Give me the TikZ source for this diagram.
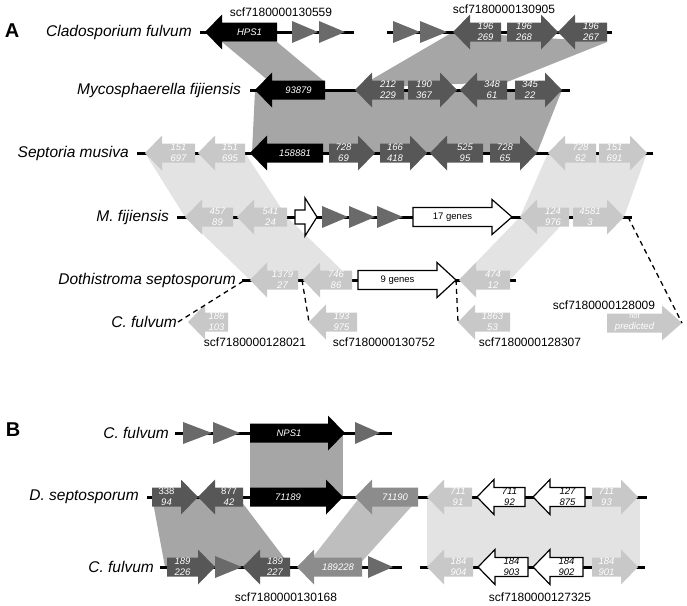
\documentclass[tikz,border=0pt]{standalone}
\usepackage{fontspec}
\setmainfont{Liberation Sans}

\definecolor{dkgray}{HTML}{575757}
\definecolor{trigray}{HTML}{6A6A6A}
\definecolor{midgray}{HTML}{8C8C8C}
\definecolor{ltgray}{HTML}{C8C8C8}
\definecolor{dkshade}{HTML}{A6A6A6}
\definecolor{midshade}{HTML}{BEBEBE}
\definecolor{ltshade}{HTML}{E3E3E3}

\tikzset{
  backbone/.style={line width=3pt},
  link/.style={line width=1.3pt, dash pattern=on 5pt off 4pt},
  species/.style={font=\fontsize{15.5}{18}\selectfont\itshape, anchor=east, inner sep=1pt},
  scaffold/.style={font=\fontsize{12}{14}\selectfont, inner sep=0pt},
  panel/.style={font=\fontsize{20}{22}\selectfont\bfseries, inner sep=0pt},
  genetext/.style={font=\fontsize{9.5}{11}\selectfont\itshape, align=center, inner sep=0pt, text=white},
  blkgene/.style={fill=black},
  dkgene/.style={fill=dkgray},
  midgene/.style={fill=midgray},
  ltgene/.style={fill=ltgray},
  wgene/.style={fill=white, draw=black, line width=1.2pt},
  blkgene label/.style={},
  dkgene label/.style={},
  midgene label/.style={},
  ltgene label/.style={},
  wgene label/.style={text=black},
  orf/.style={fill=trigray},
}

% gene verso destra: [testa]{stile}{nome}{inizio}{punta}{y}{testo}
\newcommand{\geneR}[7][17]{%
  \pgfmathsetmacro{\gHead}{#5-#1}%
  \path[#2] (#4,#6-9.5) -- (\gHead,#6-9.5) -- (\gHead,#6-17.5) -- (#5,#6)
    -- (\gHead,#6+17.5) -- (\gHead,#6+9.5) -- (#4,#6+9.5) -- cycle;
  \node[genetext, #2 label] (#3) at ({(#4+\gHead)/2},#6) {#7};
  \coordinate (#3-tip) at (#5,#6);
}
% gene verso sinistra: [testa]{stile}{nome}{fine}{punta}{y}{testo}
\newcommand{\geneL}[7][17]{%
  \pgfmathsetmacro{\gHead}{#5+#1}%
  \path[#2] (#4,#6-9.5) -- (\gHead,#6-9.5) -- (\gHead,#6-17.5) -- (#5,#6)
    -- (\gHead,#6+17.5) -- (\gHead,#6+9.5) -- (#4,#6+9.5) -- cycle;
  \node[genetext, #2 label] (#3) at ({(#4+\gHead)/2},#6) {#7};
  \coordinate (#3-tip) at (#5,#6);
}
% piccolo gene triangolare
\newcommand{\orfR}[3]{\path[orf] (#1,#3-11) -- (#2,#3) -- (#1,#3+11) -- cycle;}

\begin{document}
\begin{tikzpicture}[x=1pt, y=-1pt]
  \useasboundingbox (0,0) rectangle (687,605);

  % Regioni omologhe (A)
  \fill[dkshade] (222,42) -- (277,42) -- (325,82) -- (270,82) -- cycle;
  \fill[dkshade] (453,32) -- (607,42) -- (507,82) -- (357,88) -- cycle;
  \fill[dkshade] (255,90) -- (562,90) -- (537,153) -- (252,153) -- cycle;
  \fill[ltshade] (145,153) -- (245,153) -- (287,217) -- (185,217) -- cycle;
  \fill[ltshade] (185,217) -- (287,217) -- (352,280) -- (250,280) -- cycle;
  \fill[ltshade] (548,153) -- (647,153) -- (624,217) -- (520,217) -- cycle;
  \fill[ltshade] (520,217) -- (569,217) -- (510,280) -- (459,280) -- cycle;

  % Regioni omologhe (B)
  \fill[dkshade] (250,433) rectangle (343,497);
  \fill[dkshade] (152,497) -- (238,497) -- (291,567) -- (165,567) -- cycle;
  \fill[midshade] (360,497) -- (420,497) -- (357,567) -- (305,567) -- cycle;
  \fill[ltshade] (427,497) rectangle (640,567);

  % Scaffold
  \draw[backbone] (200,32) -- (354,32);
  \draw[backbone] (387,32) -- (612,32);
  \draw[backbone] (250,90) -- (570,90);
  \draw[backbone] (137,153) -- (653,153);
  \draw[backbone] (177,217) -- (632,217);
  \draw[backbone] (242,280) -- (516,280);
  \draw[backbone] (175,433) -- (392,433);
  \draw[backbone] (147,497) -- (647,497);
  \draw[backbone] (160,567) -- (402,567);
  \draw[backbone] (420,567) -- (645,567);
  \coordinate (ds-left) at (245,280);
  \coordinate (ds-gap) at (302,280);
  \coordinate (mf-end) at (628,217);

  % Cladosporium fulvum
  \geneL{blkgene}{hps1}{277}{205}{32}{HPS1}
  \orfR{292}{318}{32} \orfR{319}{345}{32}
  \orfR{393}{420}{32} \orfR{420}{447}{32}
  \geneL{dkgene}{cf269}{501}{453}{32}{196\\269}
  \geneR{dkgene}{cf268}{507}{558}{32}{196\\268}
  \geneL{dkgene}{cf267}{607}{558}{32}{196\\267}

  % Mycosphaerella fijiensis
  \geneL{blkgene}{mf93879}{325}{255}{90}{93879}
  \geneL{dkgene}{mf212}{404}{355}{90}{212\\229}
  \geneR{dkgene}{mf190}{408}{457}{90}{190\\367}
  \geneL{dkgene}{mf348}{507}{460}{90}{348\\61}
  \geneR{dkgene}{mf345}{515}{562}{90}{345\\22}

  % Septoria musiva
  \geneL{ltgene}{sm697}{195}{145}{153}{151\\697}
  \geneL{ltgene}{sm695}{245}{198}{153}{151\\695}
  \geneL{blkgene}{sm158881}{323}{250}{153}{158881}
  \geneR{dkgene}{sm69}{329}{375}{153}{728\\69}
  \geneR{dkgene}{sm418}{380}{427}{153}{166\\418}
  \geneL{dkgene}{sm95}{483}{430}{153}{525\\95}
  \geneR{dkgene}{sm65}{490}{537}{153}{728\\65}
  \geneL{ltgene}{sm62}{596}{548}{153}{728\\62}
  \geneR{ltgene}{sm691}{599}{647}{153}{151\\691}

  % M. fijiensis
  \geneL{ltgene}{mf89}{233}{185}{217}{457\\89}
  \geneL{ltgene}{mf24}{287}{237}{217}{541\\24}
  \path[wgene] (295,210) -- (305,210) -- (305,198) -- (317,217)
    -- (305,236) -- (305,224) -- (295,224) -- cycle;
  \orfR{322}{348}{217} \orfR{349}{375}{217} \orfR{377}{403}{217}
  \geneR[20]{wgene}{mf17}{413}{512}{217}{\upshape 17 genes}
  \geneL{ltgene}{mf976}{569}{520}{217}{124\\976}
  \geneR{ltgene}{mf3}{573}{624}{217}{4581\\3}

  % Dothistroma septosporum
  \geneL{ltgene}{ds27}{298}{250}{280}{1379\\27}
  \geneL{ltgene}{ds86}{352}{303}{280}{746\\86}
  \geneR[19]{wgene}{ds9}{358}{456}{280}{\upshape 9 genes}
  \geneL{ltgene}{ds12}{510}{459}{280}{474\\12}

  % C. fulvum, frammenti
  \geneL{ltgene}{cf103}{228}{188}{322}{186\\103}
  \geneL{ltgene}{cf975}{357}{309}{322}{193\\975}
  \geneL{ltgene}{cf53}{510}{458}{322}{1863\\53}
  \geneR[20]{ltgene}{cfnp}{607}{682}{323}{\upshape\fontsize{7.5}{8.5}\selectfont not\\predicted}

  % Pannello B
  \orfR{183}{212}{433} \orfR{213}{240}{433}
  \geneR{blkgene}{nps1}{250}{345}{433}{NPS1}
  \orfR{355}{380}{433}

  \geneR{dkgene}{ds338}{152}{198}{497}{\upshape 338\\94}
  \geneL{dkgene}{ds877}{243}{198}{497}{\upshape 877\\42}
  \geneR{blkgene}{ds71189}{250}{343}{497}{71189}
  \geneL{midgene}{ds71190}{418}{355}{497}{71190}
  \geneL{ltgene}{ds91}{472}{427}{497}{711\\91}
  \geneL{wgene}{ds92}{525}{477}{497}{711\\92}
  \geneL{wgene}{ds875}{585}{533}{497}{127\\875}
  \geneR{ltgene}{ds93}{592}{638}{497}{711\\93}

  \geneR{dkgene}{cf226}{167}{215}{567}{189\\226}
  \orfR{215}{242}{567}
  \geneL{dkgene}{cf227}{290}{243}{567}{189\\227}
  \geneL{midgene}{cf189228}{362}{297}{567}{189228}
  \orfR{368}{393}{567}
  \geneL{ltgene}{cf904}{473}{427}{567}{184\\904}
  \geneL{wgene}{cf903}{528}{478}{567}{184\\903}
  \geneL{wgene}{cf902}{583}{533}{567}{184\\902}
  \geneR{ltgene}{cf901}{592}{638}{567}{184\\901}

  % Nomi delle specie
  \node[species] (lcf1) at (193,32) {Cladosporium fulvum};
  \node[species] (lmf1) at (242,90) {Mycosphaerella fijiensis};
  \node[species] (lsm) at (130,153) {Septoria musiva};
  \node[species] (lmf2) at (170,217) {M. fijiensis};
  \node[species] (lds1) at (237,280) {Dothistroma septosporum};
  \node[species] (lcf2) at (178,322) {C. fulvum};
  \node[species] (lcf3) at (170,433) {C. fulvum};
  \node[species] (lds2) at (140,497) {D. septosporum};
  \node[species] (lcf4) at (155,567) {C. fulvum};

  % Nomi degli scaffold
  \node[scaffold] (s130559) at (281,12) {scf7180000130559};
  \node[scaffold] (s130905) at (504,9) {scf7180000130905};
  \node[scaffold] (s128021) at (255,342) {scf7180000128021};
  \node[scaffold] (s130752) at (384,342) {scf7180000130752};
  \node[scaffold] (s128307) at (530,342) {scf7180000128307};
  \node[scaffold] (s128009) at (604,305) {scf7180000128009};
  \node[scaffold] (s130168) at (286,597) {scf7180000130168};
  \node[scaffold] (s127325) at (540,597) {scf7180000127325};

  \node[panel] (pa) at (12,31) {A};
  \node[panel] (pb) at (13,430) {B};

  % Collegamenti tratteggiati
  \draw[link] (lcf2.east) -- (ds-left);
  \draw[link] (ds-gap) -- (cf975-tip);
  \draw[link] (ds9-tip) -- (cf53-tip);
  \draw[link] (mf-end) -- (cfnp-tip);
\end{tikzpicture}
\end{document}
